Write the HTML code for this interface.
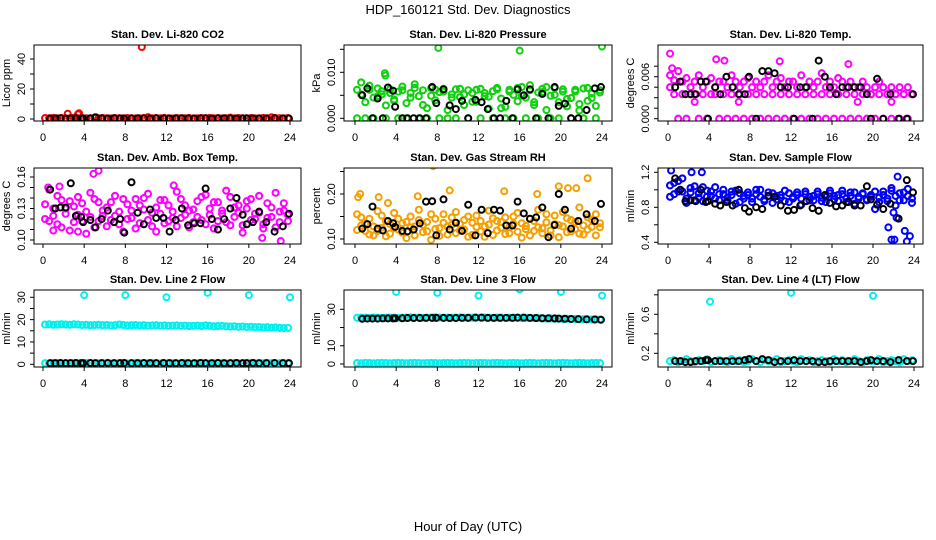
<!DOCTYPE html>
<html><head><meta charset="utf-8"><style>
html,body{margin:0;padding:0;background:#fff;}
svg{display:block;font-family:"Liberation Sans",Arial,sans-serif;}
</style></head><body>
<svg id="chart" width="936" height="540" viewBox="0 0 936 540">
<text x="468" y="14" font-size="13" text-anchor="middle">HDP_160121  Std. Dev. Diagnostics</text>
<text x="468" y="531" font-size="13" text-anchor="middle">Hour of Day (UTC)</text>
</svg>
<script>
// ---------- data ----------
const hourTicks=[0,4,8,12,16,20,24];
const blackHours=[0.7,1.2,1.7,2.2,2.7,3.2,3.7,3.9,4.6,5.1,5.7,6.3,6.9,7.5,7.9,8.6,9.2,9.8,10.4,11.0,11.7,12.3,12.9,13.5,14.1,14.7,15.3,15.8,16.4,17.0,17.6,18.2,18.8,19.4,19.8,20.4,21.0,21.7,22.5,23.3,23.9];

const co2Main=[0.6,0.5,0.7,0.5,0.6,0.4,0.5,0.8,0.5,0.6,0.5,0.4,0.6,0.5,0.7,0.5,0.4,0.6,0.5,0.5,0.6,0.5,0.4,0.5,0.6,1.2,0.5,0.6,0.5,0.7,0.5,0.4,0.6,0.5,0.5,0.6,0.4,0.5,0.6,0.5,0.7,0.5,0.6,0.4,0.5,0.9,0.5,0.6,0.5,0.4,0.6,0.5,0.5,0.7,0.5,1.1,0.6,0.5,0.4,0.6];
const co2OutH=[2.4,3.4,3.5,9.6];
const co2OutV=[3.5,3.2,3.8,48];
const co2Black=[0.3,0.4,0.5,0.3,0.4,0.5,0.3,0.4,0.5,1.2,0.4,0.3,0.5,0.4,0.3,0.4,0.5,0.4,0.3,0.5,0.4,0.3,0.4,0.5,0.4,0.3,0.4,0.5,0.3,0.4,0.5,0.4,0.3,0.4,0.5,0.4,0.3,0.4,0.5,0.4,0.3];

const presA=[0.0062,0.0078,0.0035,0.0071,0.0045,0.0065,0.0052,0.0028,0.0063,0.0041,0.0058,0.0069,0.0033,0.0055,0.0074,0.0048,0.0061,0.0022,0.0066,0.0039,0.0057,0.0064,0.0018,0.0052,0.0063,0.0046,0.0029,0.0061,0.0055,0.0036,0.0064,0.0048,0.0021,0.0059,0.0066,0.0043,0.0025,0.0062,0.0051,0.0037,0.0068,0.0045,0.0072,0.0029,0.0056,0.0064,0.0018,0.0049,0.0066,0.0035,0.0058,0.0026,0.0044,0.0062,0.0017,0.0065,0.0038,0.0054,0.0027,0.0061];
const presB=[0,0.0052,0,0.0062,0,0.0048,0.0059,0,0.0055,0.0038,0,0.0061,0,0.0045,0.0066,0,0.0029,0,0.0049,0.0062,0,0.0058,0,0.0045,0,0.0064,0.0052,0,0.0036,0.0062,0,0.0055,0.0047,0,0.0063,0.0022,0,0.0058,0,0.0066,0.0049,0,0.0061,0.0035,0,0.0057,0.0068,0,0.0051,0,0.0063,0.0042,0,0.0058,0.0031,0,0.0066,0.0044,0,0.0056];
const presOutH=[8.1,16.0,24.0,2.9,2.95];
const presOutV=[0.0153,0.0147,0.0156,0.0098,0.0093];
const presBlack=[0.005,0.0065,0,0.0043,0,0.0067,0.006,0.0025,0,0,0,0,0,0.0068,0.0033,0.0063,0.0028,0.002,0.0038,0,0.004,0.0035,0.002,0,0,0.0038,0,0.0063,0.005,0.0063,0,0.0053,0,0.0068,0.0027,0.0032,0,0,0.0018,0.0065,0.0068];

const tempA=[0.0062,0.0055,0.0068,0.0053,0.0058,0.0045,0.0053,0.0062,0.0045,0.0053,0.0058,0.0045,0.0053,0.0053,0.0045,0.0062,0.0053,0.0045,0.0053,0.0058,0.0045,0.0053,0.0045,0.0053,0.0062,0.0045,0.0053,0.0058,0.0045,0.0053,0.0053,0.0045,0.0062,0.0045,0.0053,0.0045,0.0053,0.0065,0.0045,0.0053,0.0045,0.0058,0.0053,0.0045,0.0053,0.0045,0.0045,0.0053,0.0045,0.0035,0.0045,0.0053,0.0045,0.0035,0.0045,0.0035,0.0045,0.0035,0.0045,0.0035];
const tempB=[0.0045,0.0035,0,0.0035,0,0.0035,0.0035,0,0.0035,0,0.0035,0.0035,0,0.0035,0,0.0035,0,0.0035,0,0.0035,0,0.0035,0,0.0035,0,0.0035,0,0.0035,0,0.0035,0,0.0035,0,0.0035,0,0.0035,0,0.0035,0,0.0035,0,0.0035,0,0.0035,0,0.0035,0,0.0035,0,0.0035,0,0.0035,0,0.0035,0,0.0035,0,0.0035,0,0.0035];
const tempOutH=[0.2,4.7,5.5,10.9,17.6,2.6,6.9,21.8,18.5,0.4];
const tempOutV=[0.0093,0.0085,0.0083,0.0082,0.0078,0.0024,0.0024,0.0024,0.0024,0.0072];
const tempBlack=[0.0045,0.0053,0.0035,0.0035,0.0035,0.0053,0.0053,0,0.0045,0.0035,0.006,0.0045,0.0035,0.0035,0.006,0,0.0068,0.0068,0.0065,0.0045,0.0045,0,0.0045,0.0045,0,0.0083,0.006,0.0045,0.0035,0.0045,0.0045,0.0045,0.0045,0.0035,0,0.0057,0,0.0035,0,0,0.0035];

const ambA=[0.12,0.148,0.13,0.115,0.138,0.125,0.109,0.132,0.141,0.118,0.127,0.145,0.112,0.136,0.123,0.131,0.119,0.142,0.127,0.108,0.134,0.121,0.139,0.116,0.129,0.144,0.113,0.131,0.125,0.138,0.118,0.127,0.146,0.121,0.133,0.112,0.129,0.137,0.119,0.143,0.124,0.111,0.136,0.128,0.117,0.141,0.122,0.133,0.114,0.13,0.139,0.12,0.126,0.111,0.135,0.122,0.145,0.117,0.128,0.124];
const ambB=[0.134,0.118,0.123,0.142,0.112,0.13,0.137,0.117,0.124,0.135,0.106,0.122,0.139,0.118,0.128,0.113,0.136,0.123,0.115,0.139,0.12,0.128,0.111,0.133,0.14,0.119,0.126,0.108,0.138,0.116,0.133,0.121,0.113,0.139,0.124,0.128,0.117,0.122,0.141,0.115,0.13,0.136,0.118,0.125,0.147,0.114,0.131,0.126,0.107,0.137,0.119,0.125,0.142,0.115,0.121,0.131,0.112,0.127,0.135,0.118];
const ambOutH=[5.4,4.9,0.5,1.6,12.7,23.1,21.3,1.0,3.4];
const ambOutV=[0.166,0.163,0.15,0.151,0.152,0.099,0.102,0.109,0.108];
const ambBlack=[0.148,0.13,0.131,0.131,0.154,0.123,0.122,0.117,0.119,0.112,0.12,0.128,0.117,0.12,0.107,0.155,0.126,0.115,0.129,0.121,0.121,0.108,0.119,0.13,0.114,0.116,0.116,0.149,0.12,0.11,0.12,0.13,0.14,0.124,0.115,0.117,0.127,0.117,0.108,0.113,0.125];

const rhA=[0.155,0.13,0.118,0.145,0.108,0.162,0.125,0.14,0.112,0.158,0.121,0.135,0.102,0.15,0.128,0.165,0.115,0.138,0.098,0.145,0.124,0.155,0.11,0.132,0.16,0.119,0.142,0.105,0.136,0.152,0.117,0.128,0.163,0.109,0.14,0.125,0.148,0.113,0.134,0.158,0.103,0.129,0.145,0.118,0.165,0.124,0.137,0.108,0.152,0.131,0.16,0.115,0.142,0.122,0.17,0.11,0.148,0.127,0.155,0.135];
const rhB=[0.12,0.148,0.135,0.11,0.128,0.118,0.152,0.106,0.133,0.124,0.145,0.114,0.138,0.126,0.108,0.142,0.131,0.117,0.155,0.122,0.107,0.136,0.128,0.148,0.113,0.134,0.121,0.15,0.109,0.127,0.14,0.105,0.132,0.146,0.119,0.138,0.111,0.127,0.15,0.116,0.135,0.122,0.108,0.14,0.126,0.113,0.155,0.119,0.133,0.104,0.128,0.146,0.117,0.138,0.112,0.13,0.121,0.143,0.108,0.126];
const rhOutH=[7.6,19.8,20.7,21.5,22.6,17.7,9.2,14.5,0.5,0.3,6.1,2.3,3.2];
const rhOutV=[0.262,0.217,0.213,0.213,0.235,0.2,0.208,0.206,0.2,0.193,0.195,0.193,0.18];
const rhBlack=[0.123,0.133,0.172,0.123,0.119,0.14,0.135,0.127,0.118,0.117,0.121,0.135,0.183,0.184,0.108,0.188,0.121,0.136,0.118,0.176,0.108,0.165,0.113,0.165,0.163,0.13,0.13,0.183,0.157,0.145,0.148,0.17,0.104,0.131,0.2,0.165,0.123,0.14,0.155,0.14,0.178];

const flowA=[1.05,0.95,1.1,0.98,0.9,1.02,0.88,0.96,1.03,0.92,0.98,0.9,0.95,1.0,0.88,0.94,0.99,0.86,0.93,0.97,0.9,0.95,1.0,0.87,0.93,0.96,0.89,0.94,0.99,0.86,0.92,0.97,0.9,0.95,0.88,0.93,0.98,0.87,0.92,0.96,0.89,0.94,0.99,0.86,0.93,0.97,0.9,0.95,0.88,0.92,0.98,0.86,0.94,0.9,0.99,0.82,0.96,0.88,0.93,0.85];
const flowB=[0.92,1.08,0.98,1.13,0.85,0.97,1.04,0.91,0.87,0.99,0.93,1.03,0.88,0.95,0.91,0.98,0.84,0.96,0.9,0.94,0.86,1.0,0.92,0.89,0.97,0.85,0.93,0.91,0.87,0.96,0.9,0.94,0.83,0.98,0.92,0.88,0.95,0.91,0.86,0.99,0.93,0.87,0.95,0.9,0.97,0.84,0.92,0.96,0.89,0.94,0.78,0.91,0.98,0.87,1.02,0.93,0.88,0.97,1.01,0.9];
const flowOutH=[0.3,2.3,3.3,21.8,22.1,21.5,23.3,23.6,23.1,22.3,22.0,22.4];
const flowOutV=[1.22,1.2,1.2,0.43,0.43,0.57,0.41,0.47,0.53,0.68,0.74,1.15];
const flowBlack=[1.13,1.0,0.87,0.88,0.87,1.0,0.86,0.87,0.84,0.82,0.86,0.82,1.0,0.79,0.75,0.8,0.78,0.93,0.92,0.82,0.76,0.77,0.82,0.87,0.79,0.76,0.94,0.85,0.81,0.82,0.86,0.82,0.82,1.04,0.89,0.83,0.78,0.84,0.67,1.11,0.97];

const line2Main=[17.8,17.9,17.7,17.8,17.9,17.8,17.7,17.9,17.8,17.6,17.7,17.5,17.6,17.7,17.5,17.6,17.4,17.5,17.8,17.6,17.4,17.5,17.6,17.4,17.5,17.3,17.4,17.5,17.3,17.4,17.2,17.3,17.4,17.2,17.3,17.1,17.2,17.3,17.1,17.4,17.2,17.0,17.1,17.2,17.0,16.9,17.0,16.8,16.9,16.7,16.8,16.6,16.7,16.5,16.6,16.4,16.5,16.3,16.2,16.3];
const line2Low=[0.5,0.4,0.6,0.5,0.4,0.5,0.6,0.5,0.4,0.5,0.6,0.5,0.4,0.5,0.6,0.5,0.4,0.5,0.6,0.5,0.4,0.5,0.6,0.5,0.4,0.5,0.6,0.5,0.4,0.5,0.6,0.5,0.4,0.5,0.6,0.5,0.4,0.5,0.6,0.5,0.4,0.5,0.6,0.5,0.4,0.5,0.6,0.5,0.4,0.5,0.6,0.5,0.4,0.5,0.6,0.5,0.4,0.5,0.6,0.5];
const line2OutH=[4,8,12,16,20,24];
const line2OutV=[31,31,30,32,31,30];
const line2Black=[0.5,0.5,0.6,0.5,0.5,0.6,0.5,0.5,0.6,0.5,0.5,0.6,0.5,0.5,0.6,0.5,0.5,0.6,0.5,0.5,0.6,0.5,0.5,0.6,0.5,0.5,0.6,0.5,0.5,0.6,0.5,0.5,0.6,0.5,0.5,0.6,0.5,0.5,0.6,0.5,0.5];

const line3Main=[25.4,25.5,25.4,25.3,25.5,25.4,25.3,25.4,25.5,25.4,25.3,25.4,25.5,25.6,25.4,25.5,25.3,25.4,25.5,25.6,25.5,25.4,25.5,25.4,25.5,25.6,25.4,25.5,25.4,25.5,25.4,25.5,25.4,25.3,25.5,25.4,25.3,25.4,25.5,25.3,25.2,25.3,25.2,25.1,25.2,25.0,24.9,25.0,24.8,24.9,24.7,24.8,24.6,24.7,24.6,24.5,24.6,24.4,24.5,24.4];
const line3Low=[0.5,0.4,0.6,0.5,0.4,0.5,0.6,0.5,0.4,0.5,0.6,0.5,0.4,0.5,0.6,0.5,0.4,0.5,0.6,0.5,0.4,0.5,0.6,0.5,0.4,0.5,0.6,0.5,0.4,0.5,0.6,0.5,0.4,0.5,0.6,0.5,0.4,0.5,0.6,0.5,0.4,0.5,0.6,0.5,0.4,0.5,0.6,0.5,0.4,0.5,0.6,0.5,0.4,0.5,0.6,0.5,0.4,0.5,0.6,0.5];
const line3OutH=[4,8,12,16,20,24];
const line3OutV=[39.5,39,37.5,41,39.5,37.5];
const line3Black=[24.8,24.9,24.9,24.9,25.0,25.0,25.0,25.1,25.1,25.2,25.2,25.2,25.3,25.3,25.3,25.3,25.2,25.2,25.3,25.3,25.4,25.4,25.3,25.3,25.3,25.3,25.3,25.4,25.4,25.3,25.2,25.1,25.1,25.0,24.9,24.8,24.7,24.6,24.5,24.4,24.3];

const line4Main=[0.12,0.13,0.11,0.12,0.14,0.12,0.11,0.13,0.12,0.14,0.11,0.12,0.13,0.12,0.11,0.14,0.12,0.13,0.11,0.12,0.14,0.12,0.11,0.13,0.12,0.12,0.14,0.11,0.12,0.13,0.12,0.11,0.14,0.12,0.13,0.11,0.12,0.13,0.12,0.11,0.14,0.12,0.13,0.11,0.12,0.14,0.12,0.11,0.13,0.12,0.12,0.14,0.11,0.12,0.13,0.12,0.11,0.14,0.12,0.13];
const line4OutH=[4.1,12.0,20.0];
const line4OutV=[0.73,0.82,0.79];
const line4Black=[0.12,0.12,0.11,0.11,0.12,0.12,0.13,0.13,0.12,0.12,0.12,0.12,0.12,0.13,0.14,0.12,0.14,0.13,0.11,0.12,0.12,0.13,0.12,0.12,0.12,0.11,0.11,0.12,0.12,0.12,0.12,0.12,0.11,0.12,0.13,0.12,0.12,0.11,0.13,0.12,0.12];

// ---------- layout ----------
const cols=[{l:34,r:301,x0:43,x24:290},{l:344,r:612,x0:355,x24:602},{l:658,r:923,x0:668,x24:914}];
const rows=[{t:45,b:121},{t:168,b:244},{t:290,b:367}];
const panels=[
 {name:'co2',title:'Stan. Dev. Li-820 CO2',ylab:'Licor ppm',c:0,r:0,v0:0,p0:119,v1:40,p1:59,ticks:[0,10,20,30,40],labels:['0','20','40'],labelVals:[0,20,40],color:'#ff0000',main:[co2Main],outH:co2OutH,outV:co2OutV,black:co2Black},
 {name:'pressure',title:'Stan. Dev. Li-820 Pressure',ylab:'kPa',c:1,r:0,v0:0,p0:118.3,v1:0.01,p1:72.3,ticks:[0,0.005,0.01,0.015],labels:['0.000','0.010'],labelVals:[0,0.01],color:'#10d010',main:[presA,presB],outH:presOutH,outV:presOutV,black:presBlack},
 {name:'temp',title:'Stan. Dev. Li-820 Temp.',ylab:'degrees C',c:2,r:0,v0:0,p0:118.7,v1:0.006,p1:76.7,ticks:[0,0.0015,0.003,0.0045,0.006,0.0075],labels:['0.000','0.006'],labelVals:[0,0.006],color:'#ff00ff',main:[tempA,tempB],outH:tempOutH,outV:tempOutV,black:tempBlack},
 {name:'amb-box-temp',title:'Stan. Dev. Amb. Box Temp.',ylab:'degrees C',c:0,r:1,v0:0.10,p0:240,v1:0.16,p1:177,ticks:[0.10,0.11,0.12,0.13,0.14,0.15,0.16],labels:['0.10','0.13','0.16'],labelVals:[0.10,0.13,0.16],color:'#ff00ff',main:[ambA,ambB],outH:ambOutH,outV:ambOutV,black:ambBlack},
 {name:'gas-rh',title:'Stan. Dev. Gas Stream RH',ylab:'percent',c:1,r:1,v0:0.10,p0:239,v1:0.20,p1:194,ticks:[0.10,0.15,0.20,0.25],labels:['0.10','0.20'],labelVals:[0.10,0.20],color:'#f5a000',main:[rhA,rhB],outH:rhOutH,outV:rhOutV,black:rhBlack},
 {name:'sample-flow',title:'Stan. Dev. Sample Flow',ylab:'ml/min',c:2,r:1,v0:0.4,p0:242.3,v1:1.2,p1:172.3,ticks:[0.4,0.6,0.8,1.0,1.2],labels:['0.4','0.8','1.2'],labelVals:[0.4,0.8,1.2],color:'#0000ff',main:[flowA,flowB],outH:flowOutH,outV:flowOutV,black:flowBlack},
 {name:'line2-flow',title:'Stan. Dev. Line 2 Flow',ylab:'ml/min',c:0,r:2,v0:0,p0:364.3,v1:30,p1:297.3,ticks:[0,5,10,15,20,25,30],labels:['0','10','20','30'],labelVals:[0,10,20,30],color:'#00f0f0',main:[line2Main,line2Low],outH:line2OutH,outV:line2OutV,black:line2Black},
 {name:'line3-flow',title:'Stan. Dev. Line 3 Flow',ylab:'ml/min',c:1,r:2,v0:0,p0:364,v1:30,p1:309.3,ticks:[0,10,20,30],labels:['0','10','30'],labelVals:[0,10,30],color:'#00f0f0',main:[line3Main,line3Low],outH:line3OutH,outV:line3OutV,black:line3Black},
 {name:'line4-flow',title:'Stan. Dev. Line 4 (LT) Flow',ylab:'ml/min',c:2,r:2,v0:0.2,p0:353.3,v1:0.6,p1:314.3,ticks:[0.2,0.4,0.6,0.8],labels:['0.2','0.6'],labelVals:[0.2,0.6],color:'#00f0f0',main:[line4Main],outH:line4OutH,outV:line4OutV,black:line4Black}
];

const NS='http://www.w3.org/2000/svg';
const svg=document.getElementById('chart');
function mk(tag,attrs,parent){const e=document.createElementNS(NS,tag);for(const k in attrs)e.setAttribute(k,attrs[k]);parent.appendChild(e);return e;}

panels.forEach(p=>{
  const col=cols[p.c],row=rows[p.r];
  const sx=h=>col.x0+(col.x24-col.x0)*h/24;
  const sy=v=>p.p0+(p.p1-p.p0)*(v-p.v0)/(p.v1-p.v0);
  const g=mk('g',{},svg);
  
  
  const t=mk('text',{x:(col.l+col.r)/2,y:row.t-7,'font-size':11,'font-weight':'bold','text-anchor':'middle'},g);
  t.textContent=p.title;
  
  
  const cid='clip-'+p.name;
  const cp=mk('clipPath',{id:cid},g);mk('rect',{x:col.l,y:row.t,width:col.r-col.l,height:row.b-row.t},cp);
  const marks=mk('g',{'clip-path':'url(#'+cid+')'},g);
  
  
  p.main.forEach(arr=>arr.forEach((v,i)=>{
    const c=mk('circle',{cx:sx(0.2+i*0.4),cy:sy(v),r:3,fill:'none',stroke:p.color,'stroke-width':2.1},marks);
    
    
  }));
  p.outH.forEach((h,i)=>{
    const c=mk('circle',{cx:sx(h),cy:sy(p.outV[i]),r:3,fill:'none',stroke:p.color,'stroke-width':2},marks);
    
    
  });
  p.black.forEach((v,i)=>{
    const c=mk('circle',{cx:sx(blackHours[i]),cy:sy(v),r:3,fill:'none',stroke:'#000','stroke-width':2},marks);
    
    
  });
  const b=mk('rect',{x:col.l,y:row.t,width:col.r-col.l,height:row.b-row.t,fill:'none',stroke:'#000','stroke-width':1},g);
  
  
  const xa=mk('g',{},g);
  
  
  mk('line',{x1:sx(0),x2:sx(24),y1:row.b,y2:row.b,stroke:'#000'},xa);
  hourTicks.forEach(h=>{
    mk('line',{x1:sx(h),x2:sx(h),y1:row.b,y2:row.b+4,stroke:'#000'},xa);
    const tl=mk('text',{x:sx(h),y:row.b+20,'font-size':11,'text-anchor':'middle'},xa);
    tl.textContent=h;
    
    
  });
  const ya=mk('g',{},g);
  
  
  mk('line',{x1:col.l,x2:col.l,y1:sy(p.ticks[0]),y2:sy(p.ticks[p.ticks.length-1]),stroke:'#000'},ya);
  p.ticks.forEach(v=>mk('line',{x1:col.l-4,x2:col.l,y1:sy(v),y2:sy(v),stroke:'#000'},ya));
  p.labels.forEach((lab,i)=>{
    const y=sy(p.labelVals[i]);const x=col.l-9;
    const tl=mk('text',{x:x,y:y,'font-size':11,'text-anchor':'middle',transform:'rotate(-90 '+x+' '+y+')'},ya);
    tl.textContent=lab;
    
    
  });
  const yx=col.l-24,yy=(row.t+row.b)/2;
  const yl=mk('text',{x:yx,y:yy,'font-size':11,'text-anchor':'middle',transform:'rotate(-90 '+yx+' '+yy+')'},g);
  yl.textContent=p.ylab;
  
  
});
</script>
</body></html>
